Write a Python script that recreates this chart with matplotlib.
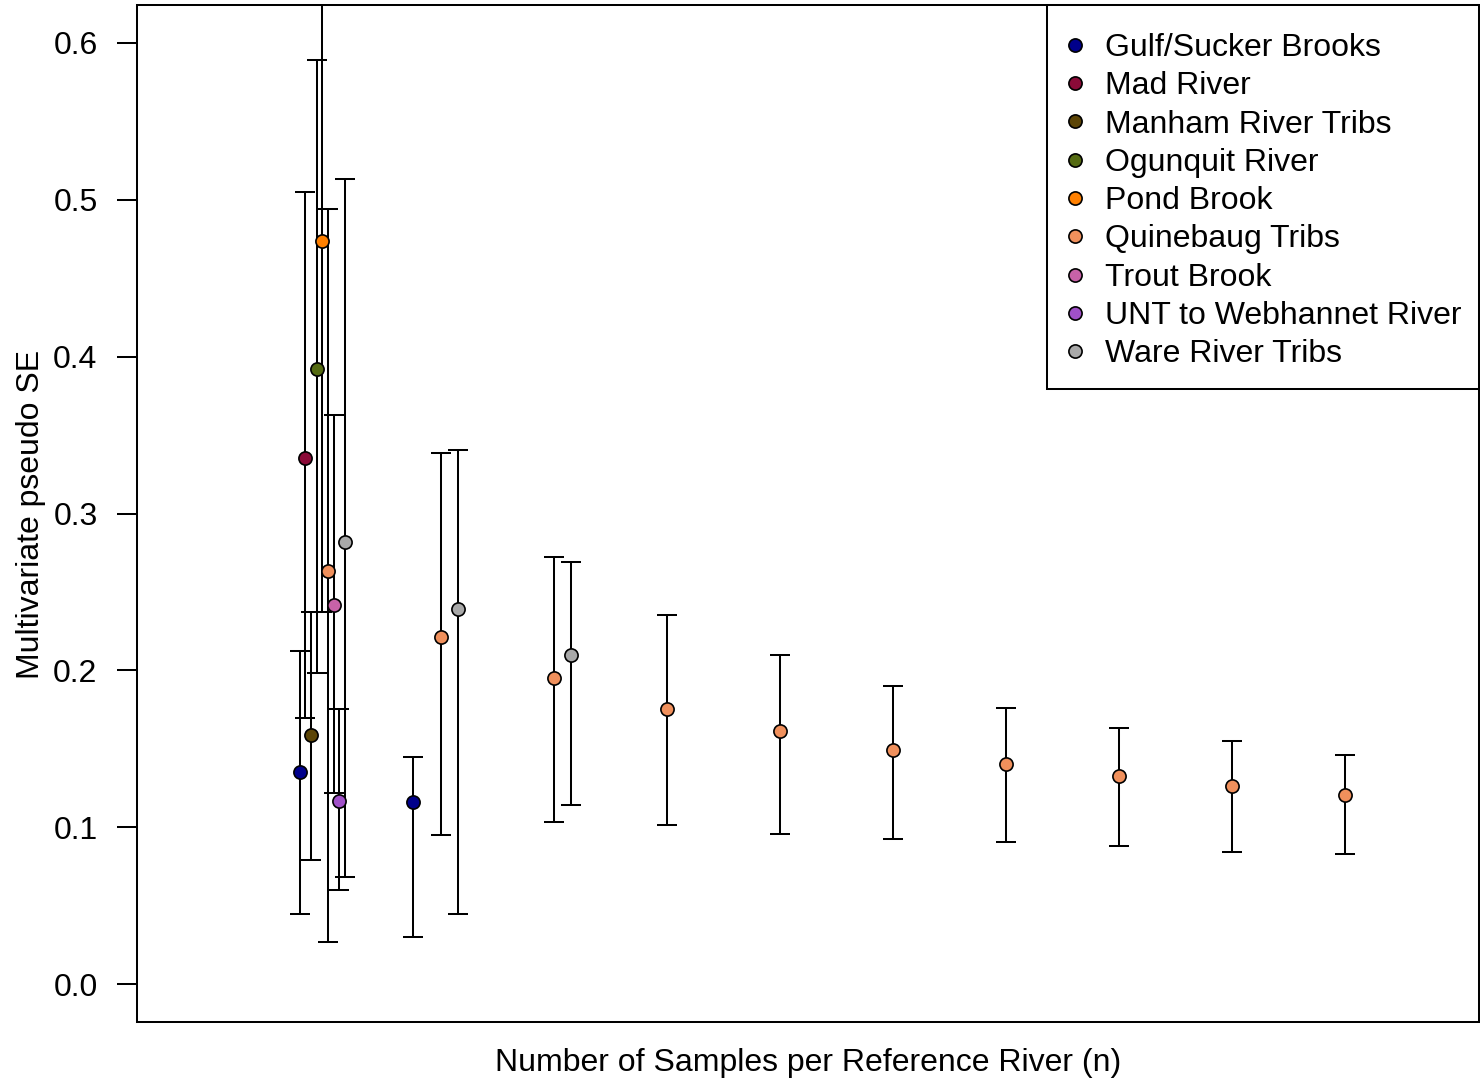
import numpy as np
import matplotlib
matplotlib.use("Agg")
import matplotlib.pyplot as plt
from matplotlib.lines import Line2D
from matplotlib.patches import Rectangle

plt.rcParams['font.family'] = ['Liberation Sans', 'DejaVu Sans']

# per river: sample sizes, pseudo SE, lower / upper interval
rivers = ["Gulf/Sucker Brooks", "Mad River", "Manham River Tribs", "Ogunquit River",
          "Pond Brook", "Quinebaug Tribs", "Trout Brook", "UNT to Webhannet River",
          "Ware River Tribs"]
colors = ["#00008B", "#8B0A38", "#5C4506", "#556B12", "#FF8000",
          "#F0905C", "#C862A8", "#A050C8", "#A9A9A9"]

n_vals = [[2, 3], [2], [2], [2], [2],
          [2, 3, 4, 5, 6, 7, 8, 9, 10, 11], [2], [2], [2, 3, 4]]
se_vals = [[0.1355, 0.1162], [0.3353], [0.1586], [0.392], [0.4734],
           [0.2632, 0.2212, 0.1951, 0.1756, 0.1612, 0.1495, 0.1406, 0.1326, 0.1262, 0.1205],
           [0.242], [0.117], [0.2817, 0.2392, 0.2100]]
lo_vals = [[0.0450, 0.0303], [0.170], [0.079], [0.1985], [0.237],
           [0.0267, 0.0954, 0.1035, 0.1014, 0.0961, 0.0929, 0.0908, 0.0884, 0.0844, 0.0829],
           [0.122], [0.0598], [0.0687, 0.0447, 0.1141]]
hi_vals = [[0.2125, 0.1449], [0.5046], [0.237], [0.589], [0.72],
           [0.494, 0.3383, 0.2725, 0.2354, 0.2100, 0.1904, 0.1760, 0.1633, 0.1548, 0.1459],
           [0.363], [0.1756], [0.513, 0.3406, 0.2693]]

OFFSET = 0.05
FS = 23

fig = plt.figure(figsize=(14.8, 10.81), dpi=100)
ax = fig.add_axes([137/1480, 1 - 1022/1081, 1342/1480, 1017/1081])

for i in range(len(rivers)):
    x = np.array(n_vals[i]) + OFFSET*i
    y = np.array(se_vals[i])
    lo = y - np.array(lo_vals[i])
    hi = np.array(hi_vals[i]) - y
    ax.errorbar(x, y, yerr=[lo, hi], fmt='none', ecolor='black',
                elinewidth=1.45, capsize=7.2, capthick=1.45, zorder=2)
for i in range(len(rivers)):
    x = np.array(n_vals[i]) + OFFSET*i
    ax.plot(x, se_vals[i], 'o', ms=9.5, mfc=colors[i], mec='black', mew=1.2,
            zorder=3, clip_on=False)

ax.set_xlim(0.56, 12.44)
ax.set_ylim(-0.024, 0.624)
ax.set_xticks([])
ax.set_yticks([0.0, 0.1, 0.2, 0.3, 0.4, 0.5, 0.6])
ax.set_yticklabels(["0.0", "0.1", "0.2", "0.3", "0.4", "0.5", "0.6"])
ax.tick_params(axis='y', length=14.4, width=1.45, pad=14, labelsize=FS)
for s in ax.spines.values():
    s.set_linewidth(1.45)

fig.text(31/1480, 1 - 514/1081, "Multivariate pseudo SE", rotation=90,
         ha='center', va='center', fontsize=FS)
fig.text(808/1480, 1 - 1063/1081, "Number of Samples per Reference River (n)",
         ha='center', va='center', fontsize=FS)

# legend box drawn separately, R style
ax.add_patch(Rectangle((0.6781, 0.6224), 1 - 0.6781, 1 - 0.6224, transform=ax.transAxes,
                       facecolor='white', edgecolor='black', lw=1.45, zorder=4,
                       clip_on=False))
handles = [Line2D([], [], marker='o', ls='none', ms=9.5, mfc=c, mec='black', mew=1.2)
           for c in colors]
leg = ax.legend(handles, rivers, loc='upper left', bbox_to_anchor=(0.6893, 0.9725),
                fontsize=FS, frameon=False, borderaxespad=0, borderpad=0,
                handlelength=0.8, handletextpad=0.55, labelspacing=0.26)
leg.set_zorder(5)

fig.savefig("out.png", dpi=100)
